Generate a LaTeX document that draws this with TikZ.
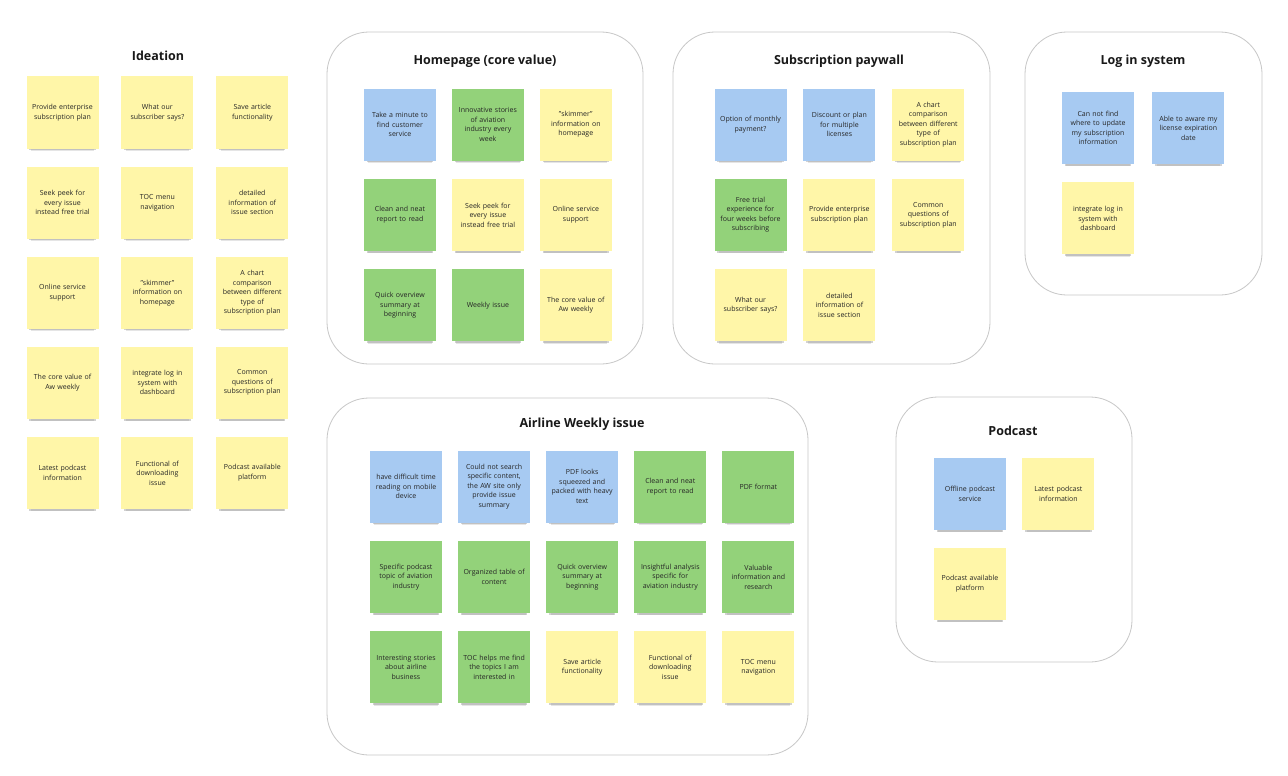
\documentclass[tikz,border=0pt]{standalone}
\usepackage{fontspec}
\setmainfont{Open Sans}
\usetikzlibrary{positioning,shadows}
\definecolor{stickyyellow}{HTML}{FFF6A8}
\definecolor{stickygreen}{HTML}{93D27A}
\definecolor{stickyblue}{HTML}{A7CAF2}
\tikzset{
  sticky/.style={rectangle, minimum width=72pt, minimum height=72pt, inner sep=0pt,
    text width=72pt, align=center, font=\fontsize{7}{9.5}\selectfont, text=black!85,
    drop shadow={shadow xshift=0pt, shadow yshift=-7.5pt, shadow scale=0.88, opacity=0.2},
    drop shadow={shadow xshift=0pt, shadow yshift=-5pt, shadow scale=0.92, opacity=0.35}},
  yel/.style={sticky, fill=stickyyellow},
  grn/.style={sticky, fill=stickygreen},
  blu/.style={sticky, fill=stickyblue},
  title/.style={font=\fontsize{12.5}{14}\selectfont\bfseries, text=black!90},
  panel/.style={draw=black!22, line width=0.8pt, rounded corners=42pt}
}

\begin{document}
\begin{tikzpicture}[x=1pt, y=-1pt]
  \useasboundingbox (0,0) rectangle (1288,776);
  \fill[white] (0,0) rectangle (1288,776);

  % frames
  \draw[panel] (327,32) rectangle (643,364);
  \draw[panel] (673,32) rectangle (990,364);
  \draw[panel] (1025,32) rectangle (1262,295);
  \draw[panel] (327,398) rectangle (808,755);
  \draw[panel] (896,397) rectangle (1132,662);

  % Ideation
  \node[title] (tI) at (158,56) {Ideation};
  \begin{scope}[node distance=17.7pt and 22.5pt]
  \node[yel] (i1) at (62.5,112.5) {Provide enterprise\\subscription plan};
  \node[yel] (i2) [right=of i1] {What our\\subscriber says?};
  \node[yel] (i3) [right=of i2] {Save article\\functionality};
  \node[yel] (i4) [below=of i1] {Seek peek for\\every issue\\instead free trial};
  \node[yel] (i5) [right=of i4] {TOC menu\\navigation};
  \node[yel] (i6) [right=of i5] {detailed\\information of\\issue section};
  \node[yel] (i7) [below=of i4] {Online service\\support};
  \node[yel] (i8) [right=of i7] {"skimmer"\\information on\\homepage};
  \node[yel] (i9) [right=of i8] {A chart\\comparison\\between different\\type of\\subscription plan};
  \node[yel] (i10) [below=of i7] {The core value of\\Aw weekly};
  \node[yel] (i11) [right=of i10] {integrate log in\\system with\\dashboard};
  \node[yel] (i12) [right=of i11] {Common\\questions of\\subscription plan};
  \node[yel] (i13) [below=of i10] {Latest podcast\\information};
  \node[yel] (i14) [right=of i13] {Functional of\\downloading\\issue};
  \node[yel] (i15) [right=of i14] {Podcast available\\platform};
  \end{scope}

  % Homepage
  \node[title] (tH) at (485,61) {Homepage (core value)};
  \begin{scope}[node distance=18pt and 15.5pt]
  \node[blu] (h1) at (400,124.5) {Take a minute to\\find customer\\service};
  \node[grn] (h2) [right=of h1] {Innovative stories\\of aviation\\industry every\\week};
  \node[yel] (h3) [right=of h2] {"skimmer"\\information on\\homepage};
  \node[grn] (h4) [below=of h1] {Clean and neat\\report to read};
  \node[yel] (h5) [right=of h4] {Seek peek for\\every issue\\instead free trial};
  \node[yel] (h6) [right=of h5] {Online service\\support};
  \node[grn] (h7) [below=of h4] {Quick overview\\summary at\\beginning};
  \node[grn] (h8) [right=of h7] {Weekly issue};
  \node[yel] (h9) [right=of h8] {The core value of\\Aw weekly};
  \end{scope}

  % Subscription paywall
  \node[title] (tS) at (839,61) {Subscription paywall};
  \begin{scope}[node distance=18pt and 16.5pt]
  \node[blu] (s1) at (750.5,124.5) {Option of monthly\\payment?};
  \node[blu] (s2) [right=of s1] {Discount or plan\\for multiple\\licenses};
  \node[yel] (s3) [right=of s2] {A chart\\comparison\\between different\\type of\\subscription plan};
  \node[grn] (s4) [below=of s1] {Free trial\\experience for\\four weeks before\\subscribing};
  \node[yel] (s5) [right=of s4] {Provide enterprise\\subscription plan};
  \node[yel] (s6) [right=of s5] {Common\\questions of\\subscription plan};
  \node[yel] (s7) [below=of s4] {What our\\subscriber says?};
  \node[yel] (s8) [right=of s7] {detailed\\information of\\issue section};
  \end{scope}

  % Log in system
  \node[title] (tL) at (1143,61) {Log in system};
  \begin{scope}[node distance=18pt and 18pt]
  \node[blu] (l1) at (1098,128) {Can not find\\where to update\\my subscription\\information};
  \node[blu] (l2) [right=of l1] {Able to aware my\\license expiration\\date};
  \node[yel] (l3) [below=of l1] {integrate log in\\system with\\dashboard};
  \end{scope}

  % Airline Weekly issue
  \node[title] (tA) at (582,424) {Airline Weekly issue};
  \begin{scope}[node distance=18pt and 15.7pt]
  \node[blu] (a1) at (406,486.5) {have difficult time\\reading on mobile\\device};
  \node[blu] (a2) [right=of a1] {Could not search\\specific content,\\the AW site only\\provide issue\\summary};
  \node[blu] (a3) [right=of a2] {PDF looks\\squeezed and\\packed with heavy\\text};
  \node[grn] (a4) [right=of a3] {Clean and neat\\report to read};
  \node[grn] (a5) [right=of a4] {PDF format};
  \node[grn] (a6) [below=of a1] {Specific podcast\\topic of aviation\\industry};
  \node[grn] (a7) [right=of a6] {Organized table of\\content};
  \node[grn] (a8) [right=of a7] {Quick overview\\summary at\\beginning};
  \node[grn] (a9) [right=of a8] {Insightful analysis\\specific for\\aviation industry};
  \node[grn] (a10) [right=of a9] {Valuable\\information and\\research};
  \node[grn] (a11) [below=of a6] {Interesting stories\\about airline\\business};
  \node[grn] (a12) [right=of a11] {TOC helps me find\\the topics I am\\interested in};
  \node[yel] (a13) [right=of a12] {Save article\\functionality};
  \node[yel] (a14) [right=of a13] {Functional of\\downloading\\issue};
  \node[yel] (a15) [right=of a14] {TOC menu\\navigation};
  \end{scope}

  % Podcast
  \node[title] (tP) at (1013,431) {Podcast};
  \begin{scope}[node distance=17.5pt and 16pt]
  \node[blu] (p1) at (970,494) {Offline podcast\\service};
  \node[yel] (p2) [right=of p1] {Latest podcast\\information};
  \node[yel] (p3) [below=of p1] {Podcast available\\platform};
  \end{scope}

\end{tikzpicture}
\end{document}
